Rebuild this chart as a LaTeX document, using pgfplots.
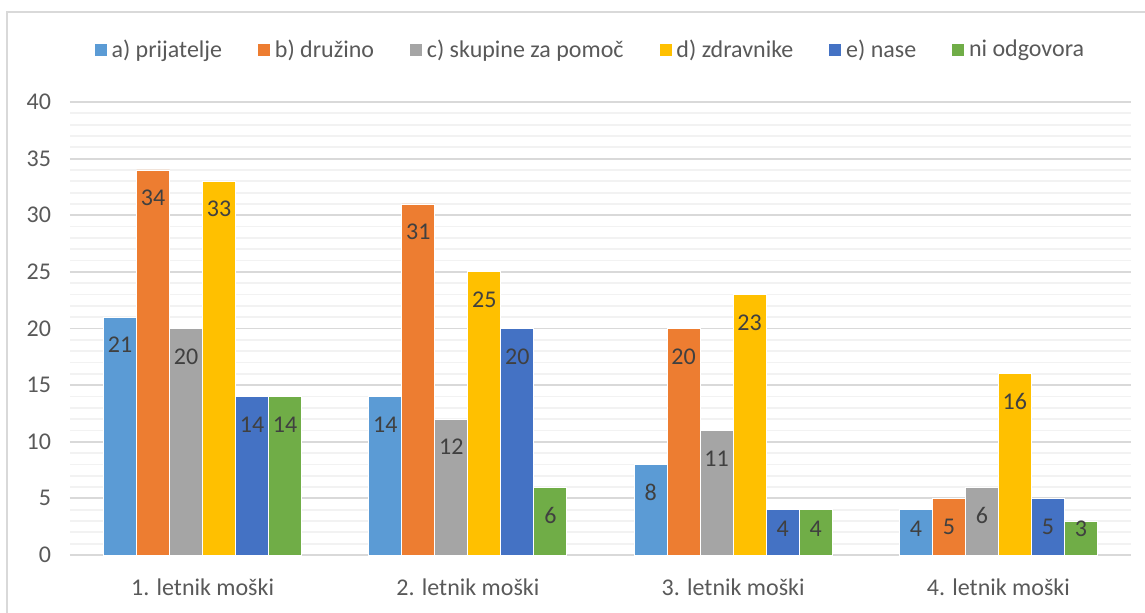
\documentclass[border=0pt]{standalone}
\usepackage{fontspec}
\setmainfont{Carlito}
\usepackage{pgfplots}
\pgfplotsset{compat=1.18}
\definecolor{ca}{HTML}{5B9BD5}
\definecolor{cb}{HTML}{ED7D31}
\definecolor{cc}{HTML}{A5A5A5}
\definecolor{cd}{HTML}{FFC000}
\definecolor{ce}{HTML}{4472C4}
\definecolor{cf}{HTML}{70AD47}
\definecolor{majgrid}{HTML}{D9D9D9}
\definecolor{mingrid}{HTML}{F2F2F2}
\definecolor{ticktext}{HTML}{595959}
\definecolor{labtext}{HTML}{404040}
\newcommand{\cf}{\fontsize{12}{14}\selectfont}
\begin{document}
\begin{tikzpicture}
\path[use as bounding box] (-35pt,-28.5pt) rectangle (537.5pt,277.5pt);
\begin{scope}
\clip (-35pt,-28.5pt) rectangle (537.5pt,277.5pt);
\draw[majgrid, line width=1pt] (-31.5pt,-60pt) rectangle (600pt,271.5pt);
\end{scope}
\begin{axis}[
  at={(0pt,0pt)}, anchor=south west,
  scale only axis, width=530.5pt, height=226.5pt,
  xmin=-0.5, xmax=3.5, ymin=0, ymax=40,
  ybar=0pt, bar width=16.5pt,
  xtick={0,1,2,3},
  xticklabels={1. letnik moški,2. letnik moški,3. letnik moški,4. letnik moški},
  ytick={0,5,...,40}, minor y tick num=4,
  ymajorgrids, yminorgrids,
  major grid style={draw=majgrid, line width=0.9pt},
  minor grid style={draw=mingrid, line width=0.9pt},
  axis x line*=bottom, axis y line*=left,
  x axis line style={draw=majgrid, line width=0.9pt},
  y axis line style={draw=none},
  tick style={draw=none},
  major tick length=0pt, minor tick length=0pt,
  tick label style={font=\cf, text=ticktext},
  /pgf/number format/assume math mode=true,
  yticklabel style={xshift=-6pt},
  xticklabel style={yshift=-8.5pt},
  legend columns=6,
  legend style={draw=none, fill=none, font=\cf, text=ticktext,
    at={(0.491,1.1148)}, anchor=center,
    /tikz/every even column/.append style={column sep=15.5pt}},
  legend image code/.code={\fill[#1] (0pt,-3.2pt) rectangle (6.5pt,3.2pt);},
  nodes near coords,
  visualization depends on={y \as \rawy},
  every node near coord/.append style={font=\cf, text=labtext, anchor=center,
    yshift={-min(14,\rawy*5.66-13)*1pt}},
]
\addplot[fill=ca, draw=white, line width=0.4pt] coordinates {(0,21) (1,14) (2,8) (3,4)};
\addplot[fill=cb, draw=white, line width=0.4pt] coordinates {(0,34) (1,31) (2,20) (3,5)};
\addplot[fill=cc, draw=white, line width=0.4pt] coordinates {(0,20) (1,12) (2,11) (3,6)};
\addplot[fill=cd, draw=white, line width=0.4pt] coordinates {(0,33) (1,25) (2,23) (3,16)};
\addplot[fill=ce, draw=white, line width=0.4pt] coordinates {(0,14) (1,20) (2,4) (3,5)};
\addplot[fill=cf, draw=white, line width=0.4pt] coordinates {(0,14) (1,6) (2,4) (3,3)};
\legend{a) prijatelje, b) družino, c) skupine za pomoč, d) zdravnike, e) nase, ni odgovora}
\end{axis}
\end{tikzpicture}
\end{document}
